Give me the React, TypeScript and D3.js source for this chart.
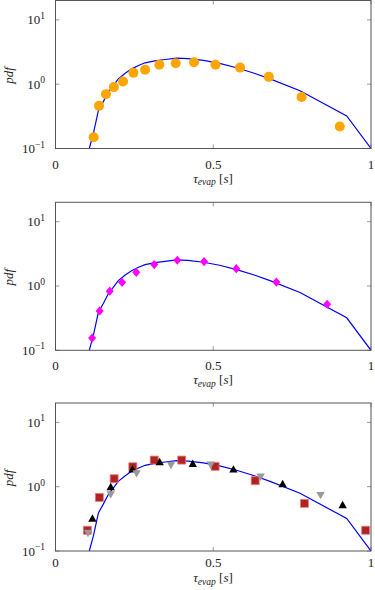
import React from 'react';
import * as d3 from 'd3';

// model curve (same in all panels)
const curveTau = [0.107, 0.12, 0.136, 0.152, 0.167, 0.183, 0.199, 0.22, 0.241, 0.265, 0.284, 0.315, 0.347, 0.384, 0.42, 0.469, 0.52, 0.574, 0.63, 0.68, 0.775, 0.923, 1.0];
const curvePdf = [0.1, 0.17, 0.39, 0.54, 0.75, 0.95, 1.21, 1.47, 1.73, 1.97, 2.15, 2.3, 2.42, 2.55, 2.5, 2.34, 2.1, 1.8, 1.48, 1.21, 0.79, 0.32, 0.1];

// panel 1: orange circles
const circleTau = [0.121, 0.138, 0.16, 0.185, 0.214, 0.247, 0.284, 0.329, 0.381, 0.439, 0.507, 0.585, 0.676, 0.78, 0.901];
const circlePdf = [0.15, 0.46, 0.7, 0.9, 1.1, 1.5, 1.68, 2.01, 2.11, 2.19, 2.01, 1.81, 1.3, 0.63, 0.22];

// panel 2: magenta diamonds
const diamondTau = [0.116, 0.14, 0.172, 0.211, 0.256, 0.313, 0.386, 0.471, 0.573, 0.7, 0.861];
const diamondPdf = [0.155, 0.41, 0.83, 1.14, 1.63, 2.15, 2.51, 2.4, 1.86, 1.15, 0.52];

// panel 3: three series
const squareTau = [0.101, 0.139, 0.186, 0.245, 0.313, 0.4, 0.506, 0.633, 0.789, 0.983];
const squarePdf = [0.21, 0.68, 1.33, 2.04, 2.59, 2.59, 2.07, 1.24, 0.55, 0.21];
const triUpTau = [0.117, 0.175, 0.244, 0.33, 0.435, 0.564, 0.72, 0.91];
const triUpPdf = [0.32, 0.99, 1.86, 2.42, 2.27, 1.86, 1.1, 0.52];
const triDownTau = [0.103, 0.175, 0.257, 0.366, 0.492, 0.65, 0.84];
const triDownPdf = [0.19, 0.76, 1.61, 2.17, 2.19, 1.43, 0.74];

const tauTicks = [0, 0.5, 1];
const tauTickLabels = ['0', '0.5', '1'];
const pdfTicks = [0.1, 1, 10];
const pdfTickExp = ['\u22121', '0', '1'];

const W = 375;
const H = 590;
const left = 55.5;
const right = 371;
const panelH = 148;
const font = '"Liberation Serif", "DejaVu Serif", serif';
const fs = 13;

const x = d3.scaleLinear().domain([0, 1]).range([left, right]);

type Shape = 'circle' | 'diamond' | 'square' | 'up' | 'down';

function markerPath(shape: Shape): string {
  if (shape === 'diamond') return 'M0,-4.6L4,0L0,4.6L-4,0Z';
  if (shape === 'square') return 'M-4,-4H4V4H-4Z';
  if (shape === 'up') return 'M0,-4.2L4.2,3.2L-4.2,3.2Z';
  if (shape === 'down') return 'M0,4.2L4.2,-3.2L-4.2,-3.2Z';
  return '';
}

interface Series {
  tau: number[];
  pdf: number[];
  shape: Shape;
  fill: string;
  stroke?: string;
}

interface PanelProps {
  top: number;
  series: Series[];
  id: string;
  tickGap: number;
  labelGap: number;
}

const Panel = ({ top, series, id, tickGap, labelGap }: PanelProps) => {
  const bottom = top + panelH;
  const y = d3.scaleLog().domain([0.1, 20]).range([bottom, top]);
  const line = d3.line<number>()
    .x((_, i) => x(curveTau[i]))
    .y(d => y(d));
  const tickColor = '#999';
  return (
    <g>
      <defs>
        <clipPath id={id}>
          <rect x={left} y={top} width={right - left} height={panelH} />
        </clipPath>
      </defs>
      {/* ticks */}
      {pdfTicks.map(t => (
        <g key={'y' + t}>
          <line x1={left} x2={left + 4} y1={y(t)} y2={y(t)} stroke={tickColor} />
          <line x1={right - 4} x2={right} y1={y(t)} y2={y(t)} stroke={tickColor} />
        </g>
      ))}
      {tauTicks.map(t => (
        <g key={'x' + t}>
          <line x1={x(t)} x2={x(t)} y1={bottom} y2={bottom - 4} stroke={tickColor} />
          <line x1={x(t)} x2={x(t)} y1={top} y2={top + 4} stroke={tickColor} />
        </g>
      ))}
      <path d={line(curvePdf) || ''} fill="none" stroke="#0000ff" strokeWidth={1.2} clipPath={`url(#${id})`} />
      {series.map((s, si) => (
        <g key={si}>
          {s.tau.map((t, i) =>
            s.shape === 'circle' ? (
              <circle key={i} cx={x(t)} cy={y(s.pdf[i])} r={5} fill={s.fill} />
            ) : (
              <path key={i} d={markerPath(s.shape)} transform={`translate(${x(t)},${y(s.pdf[i])})`}
                fill={s.fill} stroke={s.stroke || 'none'} strokeWidth={0.8} />
            )
          )}
        </g>
      ))}
      <rect x={left} y={top} width={right - left} height={panelH} fill="none" stroke="#555" strokeWidth={1} />
      {/* y tick labels */}
      {pdfTicks.map((t, i) => (
        <text key={'yl' + t} x={45} y={y(t) + 4.5} textAnchor="end" fontFamily={font} fontSize={fs} fill="#222">
          10<tspan fontSize={9.5} dy={-5.5}>{pdfTickExp[i]}</tspan>
        </text>
      ))}
      {tauTicks.map((t, i) => (
        <text key={'xl' + t} x={x(t)} y={bottom + tickGap} textAnchor="middle" fontFamily={font} fontSize={fs} fill="#222">
          {tauTickLabels[i]}
        </text>
      ))}
      <text x={213} y={bottom + labelGap} textAnchor="middle" fontFamily={font} fontSize={fs} fill="#222">
        <tspan fontStyle="italic">τ</tspan>
        <tspan fontStyle="italic" fontSize={9.5} dy={2.5}>evap</tspan>
        <tspan dy={-2.5}> [</tspan>
        <tspan fontStyle="italic">s</tspan>
        <tspan>]</tspan>
      </text>
      <text transform={`translate(13,${top + panelH / 2 + 1}) rotate(-90)`} textAnchor="middle" fontFamily={font}
        fontSize={fs} fontStyle="italic" fill="#222">pdf</text>
    </g>
  );
};

export default function App() {
  return (
    <svg width={W} height={H} style={{ position: 'absolute', left: 0, top: 0, background: '#fff' }}>
      <Panel id="c1" top={0.5} tickGap={20} labelGap={34}
        series={[{ tau: circleTau, pdf: circlePdf, shape: 'circle', fill: '#ffa500' }]} />
      <Panel id="c2" top={202.3} tickGap={20} labelGap={34}
        series={[{ tau: diamondTau, pdf: diamondPdf, shape: 'diamond', fill: '#ff00ff' }]} />
      <Panel id="c3" top={403} tickGap={16} labelGap={31} series={[
        { tau: squareTau, pdf: squarePdf, shape: 'square', fill: '#b22222', stroke: '#e08080' },
        { tau: triUpTau, pdf: triUpPdf, shape: 'up', fill: '#000000' },
        { tau: triDownTau, pdf: triDownPdf, shape: 'down', fill: '#999999' },
      ]} />
    </svg>
  );
}
